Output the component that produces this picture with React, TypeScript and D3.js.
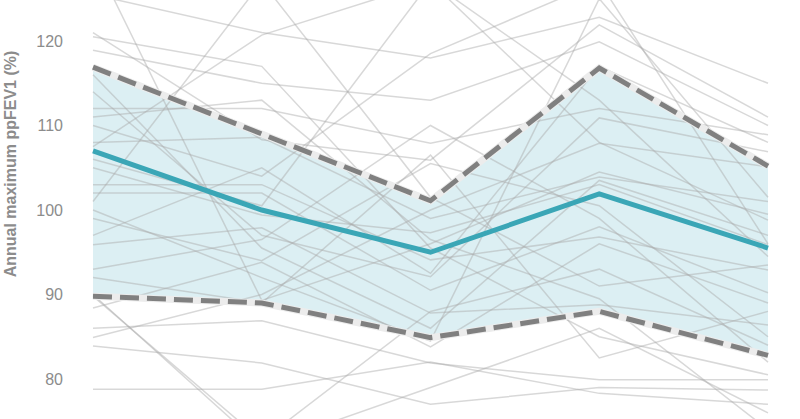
import * as d3 from 'd3'
import * as React from 'react'

//------------------------------data------------------------------
const visits = ['V1', 'V2', 'V3', 'V4', 'V5']
const meanValues = [107.0, 100.0, 95.0, 101.9, 95.5]
const upperValues = [116.9, 109.0, 101.1, 116.8, 105.2]
const lowerValues = [89.8, 89.0, 84.9, 88.0, 82.8]
const yTicks = [80, 90, 100, 110, 120]
// one row per patient, values at each visit
const subjectValues: number[][] = [
  [125.5, 121.0, 118.0, 122.8, 115.0],
  [121.0, 108.3, 105.9, 121.9, 111.0],
  [118.9, 115.0, 113.0, 119.9, 110.0],
  [112.0, 112.0, 107.9, 112.0, 108.9],
  [114.0, 97.0, 92.1, 110.9, 106.9],
  [107.5, 120.7, 127.0, 108.0, 98.8],
  [108.0, 108.6, 99.0, 103.9, 101.0],
  [105.0, 99.4, 97.3, 103.0, 95.9],
  [103.0, 103.0, 94.1, 96.8, 92.9],
  [102.0, 102.0, 90.5, 98.0, 90.2],
  [95.9, 97.9, 87.8, 88.8, 86.4],
  [88.4, 93.8, 83.8, 96.0, 89.0],
  [86.0, 86.9, 81.9, 79.9, 79.9],
  [84.9, 90.0, 100.0, 107.9, 105.1],
  [83.9, 81.9, 77.0, 79.0, 78.7],
  [78.8, 78.8, 82.0, 78.3, 77.0],
  [90.0, 72.0, 79.0, 86.0, 76.0],
  [89.8, 72.7, 88.0, 93.0, 84.0],
  [130.0, 89.3, 96.0, 104.5, 99.5],
  [110.0, 104.0, 118.5, 127.0, 96.0],
  [99.0, 94.0, 105.5, 100.5, 85.0],
  [116.0, 95.5, 86.0, 103.5, 97.0],
  [101.0, 127.0, 101.5, 91.0, 93.5],
  [93.0, 96.5, 110.0, 99.0, 82.0],
  [106.0, 100.5, 127.0, 113.0, 94.5],
  [97.0, 105.0, 92.5, 117.0, 108.0],
  [120.5, 117.0, 95.5, 85.0, 80.5],
  [92.0, 89.0, 106.5, 82.5, 88.0],
  [100.0, 92.0, 84.5, 125.0, 101.5],
  [111.0, 113.0, 96.5, 89.5, 74.0]
]

const WIDTH = 800
const HEIGHT = 419
const FONT = '"Liberation Sans", Arial, sans-serif'

//------------------------------drawChart------------------------------
const drawChart = (svgRef: React.RefObject<SVGSVGElement | null>) => {
  const svg = d3.select(svgRef.current)
  svg.selectAll('*').remove()

  const x = d3.scalePoint<string>().domain(visits).range([93, 768])
  const y = d3.scaleLinear().domain([80, 120]).range([379, 41])

  const band = d3
    .area<number>()
    .x((_, i) => x(visits[i]) as number)
    .y0((_, i) => y(lowerValues[i]))
    .y1(d => y(d))
  const line = d3
    .line<number>()
    .x((_, i) => x(visits[i]) as number)
    .y(d => y(d))

  // y axis: labels only
  const yAxis = svg
    .append('g')
    .attr('transform', 'translate(63,0)')
    .call(d3.axisLeft(y).tickValues(yTicks).tickSize(0).tickPadding(0))
  yAxis.select('.domain').remove()
  yAxis
    .selectAll('text')
    .attr('fill', '#8c8c8c')
    .attr('font-size', 16)
    .attr('font-family', FONT)

  svg
    .append('text')
    .attr('transform', 'translate(16,164) rotate(-90)')
    .attr('text-anchor', 'middle')
    .attr('fill', '#8c8c8c')
    .attr('font-size', 16)
    .attr('font-weight', 'bold')
    .attr('font-family', FONT)
    .text('Annual maximum ppFEV1 (%)')

  svg
    .append('path')
    .datum(upperValues)
    .attr('d', band)
    .attr('fill', '#dceff3')

  svg
    .append('g')
    .selectAll('path')
    .data(subjectValues)
    .join('path')
    .attr('d', d => line(d))
    .attr('fill', 'none')
    .attr('stroke', '#a8a8a8')
    .attr('stroke-opacity', 0.45)
    .attr('stroke-width', 1.5)

  // dashed boundaries with a light halo
  ;[upperValues, lowerValues].forEach(vals => {
    svg
      .append('path')
      .datum(vals)
      .attr('d', line)
      .attr('fill', 'none')
      .attr('stroke', '#ececec')
      .attr('stroke-width', 7)
    svg
      .append('path')
      .datum(vals)
      .attr('d', line)
      .attr('fill', 'none')
      .attr('stroke', '#808080')
      .attr('stroke-width', 5)
      .attr('stroke-dasharray', '19 8')
  })

  svg
    .append('path')
    .datum(meanValues)
    .attr('d', line)
    .attr('fill', 'none')
    .attr('stroke', '#3aa6b6')
    .attr('stroke-width', 5)
}

//------------------------------Component------------------------------
const App: React.FunctionComponent = () => {
  const chartSvg = React.useRef<SVGSVGElement>(null)

  React.useEffect(() => {
    drawChart(chartSvg)
  }, [])

  return (
    <svg
      ref={chartSvg}
      width={WIDTH}
      height={HEIGHT}
      style={{ position: 'absolute', left: 0, top: 0, background: '#fff' }}
    />
  )
}

export default App
